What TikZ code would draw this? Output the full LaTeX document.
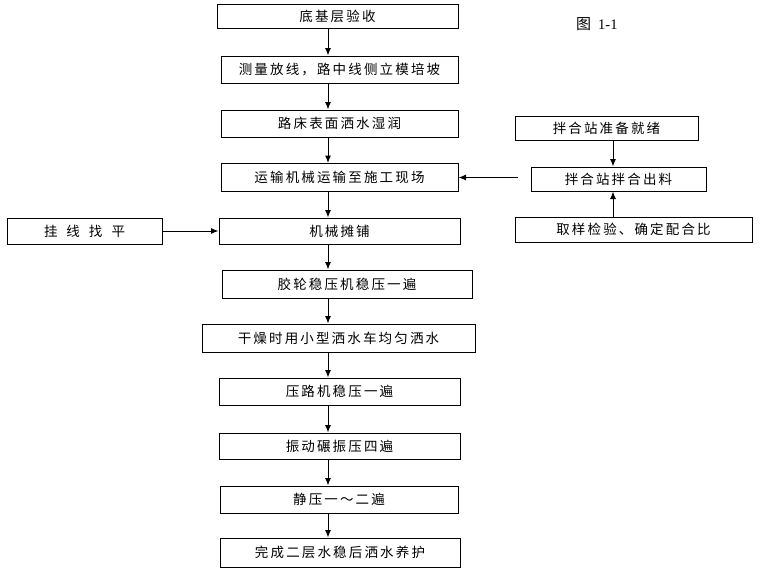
\documentclass[tikz,border=0pt]{standalone}
\usepackage{fontspec}
\setmainfont{Noto Sans CJK SC}[LetterSpace=16]
\newfontfamily\cjktitle{Noto Sans CJK SC}
\newfontfamily\serifnum{Liberation Serif}
\usetikzlibrary{arrows.meta}
\begin{document}
\begin{tikzpicture}[x=1pt,y=-1pt,
  box/.style={draw,line width=1pt,rectangle,inner sep=0pt,font=\fontsize{13.5}{15}\selectfont},
  arr/.style={draw,line width=1pt,-{Latex[length=7.5pt,width=6pt]}}]
\useasboundingbox[fill=white] (0,0) rectangle (760,570);
\node[box,minimum width=241pt,minimum height=24pt] (b1) at (337.5,16) {底基层验收};
\node[box,minimum width=237pt,minimum height=27pt] (b2) at (339.5,69.5) {测量放线，路中线侧立模培坡};
\node[box,minimum width=237pt,minimum height=27pt] (b3) at (339.5,123.5) {路床表面洒水湿润};
\node[box,minimum width=237pt,minimum height=28pt] (b4) at (339.5,177.5) {运输机械运输至施工现场};
\node[box,minimum width=241pt,minimum height=26pt] (b5) at (339.5,231) {机械摊铺};
\node[box,minimum width=250pt,minimum height=28pt] (b6) at (347,284) {胶轮稳压机稳压一遍};
\node[box,minimum width=273pt,minimum height=28pt] (b7) at (338.5,338) {干燥时用小型洒水车均匀洒水};
\node[box,minimum width=241pt,minimum height=27pt] (b8) at (339.5,391.5) {压路机稳压一遍};
\node[box,minimum width=241pt,minimum height=26pt] (b9) at (339.5,446) {振动碾振压四遍};
\node[box,minimum width=238pt,minimum height=27pt] (b10) at (339,499.5) {静压一～二遍};
\node[box,minimum width=240pt,minimum height=29pt] (b11) at (340,552.5) {完成二层水稳后洒水养护};
\node[box,minimum width=155pt,minimum height=26pt] (g) at (84.5,231) {挂\kern9pt 线\kern9pt 找\kern9pt 平};
\node[box,minimum width=183pt,minimum height=24pt] (r1) at (606.5,128) {拌合站准备就绪};
\node[box,minimum width=175pt,minimum height=24pt] (r2) at (618.5,179) {拌合站拌合出料};
\node[box,minimum width=237pt,minimum height=25pt] (r3) at (633.5,229.5) {取样检验、确定配合比};
\node[anchor=west,inner sep=0pt] (title) at (576,24) {{\cjktitle\fontsize{15}{16}\selectfont 图}\kern7pt{\serifnum\fontsize{14.5}{16}\selectfont 1-1}};
\coordinate (ax) at (328,0);
\coordinate (rx) at (613,0);
\foreach \a/\b in {b1/b2,b2/b3,b3/b4,b4/b5,b5/b6,b6/b7,b7/b8,b8/b9,b9/b10,b10/b11}
  \draw[arr] (\a.south -| ax) -- (\b.north -| ax);
\draw[arr] (r1.south -| rx) -- (r2.north -| rx);
\draw[arr] (r3.north -| rx) -- (r2.south -| rx);
\draw[arr,shorten <=13pt] (r2.west |- b4.east) -- (b4.east);
\draw[arr] (g.east) -- (b5.west);
\end{tikzpicture}
\end{document}
